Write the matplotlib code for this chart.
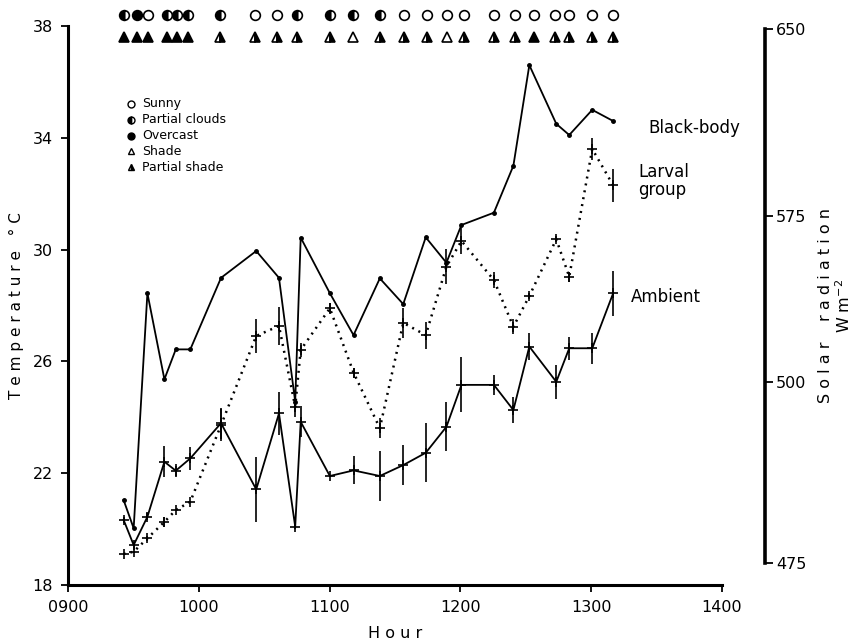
import numpy as np
import matplotlib
matplotlib.use("Agg")
import matplotlib.pyplot as plt
import matplotlib.transforms as mtransforms

# ---------------- data ----------------
hours = [9.425, 9.502, 9.607, 9.737, 9.824, 9.935, 10.170, 10.439, 10.613, 10.737,
         10.779, 11.002, 11.183, 11.384, 11.563, 11.735, 11.893, 12.008, 12.256,
         12.405, 12.527, 12.733, 12.832, 13.008, 13.168]

black_body = [21.04, 20.03, 28.44, 25.36, 26.43, 26.43, 28.99, 29.95, 28.99, 24.56,
              30.43, 28.44, 26.94, 28.97, 28.05, 30.44, 29.53, 30.88, 31.32,
              33.0, 36.6, 34.5, 34.1, 35.0, 34.6]

larval = [19.11, 19.19, 19.67, 20.26, 20.68, 20.98, 23.72, 26.91, 27.27, 24.38,
          26.41, 27.90, 25.60, 23.61, 27.38, 26.94, 29.39, 30.31, 28.91,
          27.24, 28.34, 30.37, 29.03, 33.6, 32.3]
larval_err = [0.0, 0.0, 0.1, 0.18, 0.0, 0.0, 0.56, 0.62, 0.68, 0.36,
              0.24, 0.2, 0.18, 0.36, 0.54, 0.48, 0.62, 0.46, 0.3,
              0.27, 0.1, 0.1, 0.18, 0.4, 0.6]

ambient = [20.33, 19.43, 20.44, 22.41, 22.09, 22.53, 23.79, 21.42, 24.14, 20.09,
           23.84, 21.90, 22.10, 21.90, 22.29, 22.73, 23.66, 25.16, 25.16,
           24.26, 26.53, 25.27, 26.47, 26.47, 28.44]
ambient_err = [0.1, 0.1, 0.12, 0.56, 0.24, 0.42, 0.56, 1.16, 0.78, 0.1,
               0.56, 0.0, 0.5, 0.9, 0.72, 1.05, 0.88, 0.98, 0.35,
               0.45, 0.49, 0.6, 0.42, 0.56, 0.81]

# sky condition: S = sunny, P = partial clouds, O = overcast
sky_hours = [9.425, 9.527, 9.608, 9.756, 9.832, 9.918, 10.163, 10.427, 10.6, 10.753,
             11.002, 11.18, 11.389, 11.567, 11.746, 11.898, 12.025, 12.254, 12.42,
             12.565, 12.725, 12.827, 13.005, 13.17]
sky = ["P", "O", "S", "P", "P", "P", "P", "S", "S", "P",
       "P", "P", "P", "S", "S", "S", "S", "S", "S",
       "S", "S", "S", "S", "S"]
# shade condition: F = full (solid), H = partial shade, N = shade
shade = ["F", "F", "F", "F", "F", "F", "H", "H", "H", "H",
         "H", "N", "H", "H", "H", "N", "H", "H", "H",
         "F", "H", "H", "H", "H"]

x_ticks = [9, 10, 11, 12, 13, 14]
x_ticklabels = ["0900", "1000", "1100", "1200", "1300", "1400"]
y_ticks = [18, 22, 26, 30, 34, 38]
rad_ticklabels = ["475", "500", "575", "650"]
rad_tick_pos = [18.79, 25.26, 31.2, 37.89]

# ---------------- figure ----------------
fig = plt.figure(figsize=(8.61, 6.42), dpi=100)
ax = fig.add_axes([68/861, 1-585/642, (722-68)/861, (585-26)/642])
ax.set_xlim(9, 14)
ax.set_ylim(18, 38)

# lines
ax.plot(hours, black_body, color="black", lw=1.3, marker="o", ms=2.5, zorder=3)
ax.errorbar(hours, ambient, yerr=ambient_err, color="black", lw=1.3, marker="+",
            ms=7, mew=1.2, elinewidth=1.2, capsize=0, zorder=3)
ax.errorbar(hours, larval, yerr=larval_err, color="black", lw=1.8, ls=(0, (0.8, 2.0)),
            marker="+", ms=7, mew=1.2, elinewidth=1.2, capsize=0, zorder=3)

# series labels
lab_kw = dict(fontsize=12, color="black", ha="left", va="center")
ax.text(13.435, 34.35, "Black-body", **lab_kw)
ax.text(13.36, 32.45, "Larval\ngroup", linespacing=1.0, **lab_kw)
ax.text(13.30, 28.3, "Ambient", **lab_kw)

# sky & shade symbols along the top
trans = mtransforms.blended_transform_factory(ax.transData, ax.transAxes)
sky_style = {"S": dict(fillstyle="none"),
             "P": dict(fillstyle="left"),
             "O": dict(fillstyle="full")}
shade_style = {"F": dict(fillstyle="full"),
               "H": dict(fillstyle="right"),
               "N": dict(fillstyle="none")}
for h, s in zip(sky_hours, sky):
    ax.plot([h], [1.0197], transform=trans, marker="o", ms=7, mec="black", mfc="black",
            mew=1.2, clip_on=False, ls="none", **sky_style[s])
for h, s in zip(sky_hours, shade):
    ax.plot([h], [0.980], transform=trans, marker="^", ms=6.5, mec="black", mfc="black",
            mew=1.2, clip_on=False, ls="none", **shade_style[s])

# legend (manual)
leg_items = [("o", "none", "Sunny"), ("o", "left", "Partial clouds"),
             ("o", "full", "Overcast"), ("^", "none", "Shade"), ("^", "right", "Partial shade")]
for i, (m, fs, t) in enumerate(leg_items):
    yy = 0.861 - i * 0.0285
    ax.plot([0.096], [yy], transform=ax.transAxes, marker=m, ms=5, mec="black",
            mfc="black", mew=1.0, fillstyle=fs, ls="none")
    ax.text(0.113, yy, t, transform=ax.transAxes, fontsize=9, va="center", ha="left")

# axes styling
for sp in ["top", "right"]:
    ax.spines[sp].set_visible(False)
ax.spines["left"].set_linewidth(2.2)
ax.spines["bottom"].set_linewidth(2.2)
ax.set_xticks(x_ticks, x_ticklabels)
ax.set_yticks(y_ticks)
ax.tick_params(axis="both", direction="out", length=5, width=1.3, labelsize=11.5, pad=6)
ax.set_xlabel("H o u r", fontsize=11.5, labelpad=8)
ax.set_ylabel("T e m p e r a t u r e   ° C", fontsize=11, labelpad=6)

# right solar-radiation axis
ax2 = ax.twinx()
ax2.set_ylim(18, 38)
for sp in ["top", "left", "bottom"]:
    ax2.spines[sp].set_visible(False)
ax2.spines["right"].set_position(("axes", (765-68)/(722-68)))
ax2.spines["right"].set_bounds(rad_tick_pos[0], rad_tick_pos[-1])
ax2.spines["right"].set_linewidth(2.6)
ax2.set_yticks(rad_tick_pos, rad_ticklabels)
ax2.tick_params(axis="y", direction="out", length=6, width=1.3, labelsize=11.5, pad=2)
ax2.set_ylabel("S o l a r    r a d i a t i o n\nW m$^{-2}$", fontsize=11.5,
               labelpad=8, linespacing=1.1)

fig.savefig("out.png", dpi=100)
